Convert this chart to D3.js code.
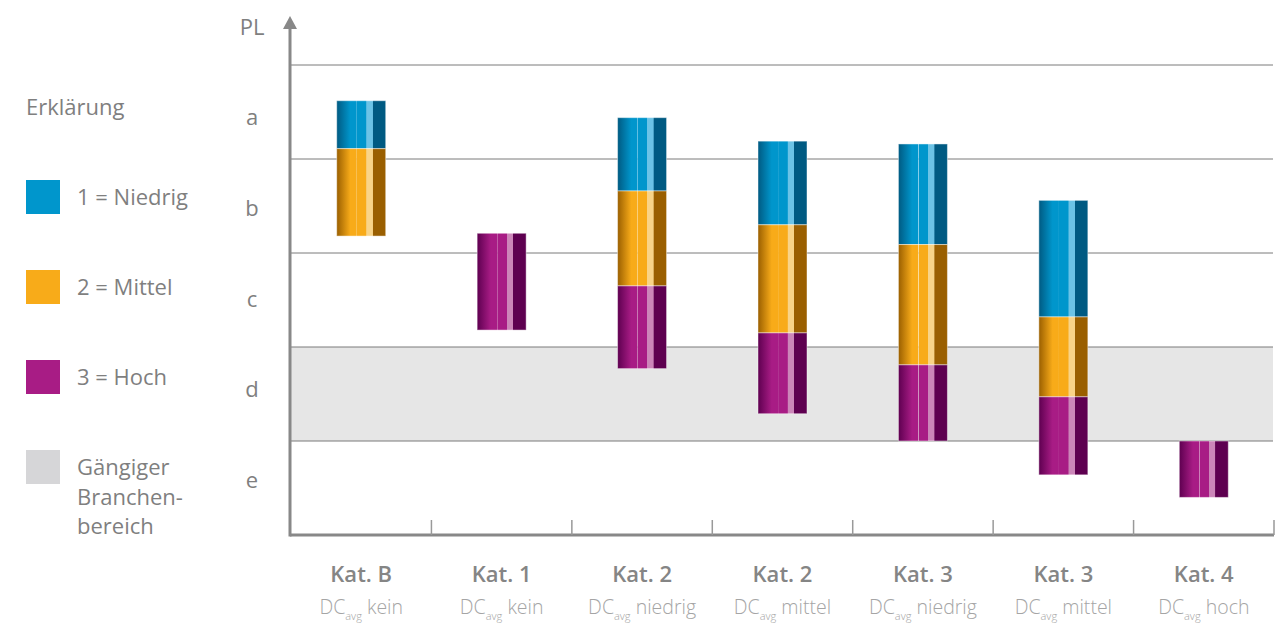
<!DOCTYPE html>
<html>
<head>
<meta charset="utf-8">
<script src="https://cdn.jsdelivr.net/npm/d3@7"></script>
<style>
  body { margin: 0; background: #fff; }
  svg text { font-family: "Open Sans", "Noto Sans", sans-serif; }
</style>
</head>
<body>
<svg id="chart" width="1278" height="624"></svg>
<script>
// Kategorien auf der x-Achse
var kategorien = ["Kat. B", "Kat. 1", "Kat. 2", "Kat. 2", "Kat. 3", "Kat. 3", "Kat. 4"];
var dcStufe = ["kein", "kein", "niedrig", "mittel", "niedrig", "mittel", "hoch"];
// PL-Stufen (oben nach unten)
var plStufen = ["a", "b", "c", "d", "e"];
// Wertebereiche je Serie: [oben, unten] in PL-Einheiten (e = 0..1, a = 4..5), null = nicht vorhanden
var niedrig = [[4.62, 4.11], null, [4.44, 3.66], [4.19, 3.30], [4.16, 3.09], [3.56, 2.32], null];
var mittel  = [[4.11, 3.18], null, [3.66, 2.65], [3.30, 2.15], [3.09, 1.81], [2.32, 1.47], null];
var hoch    = [null, [3.21, 2.18], [2.65, 1.77], [2.15, 1.29], [1.81, 1.00], [1.47, 0.64], [1.00, 0.40]];
// Branchenbereich (Band d)
var branchenbereich = [1, 2];

var serien = [
  {name: "1 = Niedrig", werte: niedrig, farbe: "#0096cc", dunkel: "#005a82", hell: "#6cc3e6"},
  {name: "2 = Mittel", werte: mittel, farbe: "#f8ab19", dunkel: "#9a5f00", hell: "#f9d488"},
  {name: "3 = Hoch", werte: hoch, farbe: "#a81c85", dunkel: "#5e0050", hell: "#cc86b9"}
];

var svg = d3.select("#chart");
var links = 290, rechts = 1273, oben = 65, unten = 535;

var x = d3.scaleBand()
    .domain(d3.range(kategorien.length))
    .range([links, rechts]);

var y = d3.scaleLinear()
    .domain([0, 5])
    .range([unten, oben]);

// Beschriftung der PL-Stufen sitzt etwas enger als die Baender
var yLabel = d3.scalePoint()
    .domain(plStufen)
    .range([118, 481]);

// Verlaeufe fuer den Zylinder-Effekt
var defs = svg.append("defs");
serien.forEach(function(s, i) {
  var g = defs.append("linearGradient").attr("id", "grad" + i)
      .attr("x1", "0").attr("x2", "1").attr("y1", "0").attr("y2", "0");
  [[0, s.dunkel], [0.28, s.farbe], [0.40, s.farbe], [0.41, s.hell], [0.42, s.farbe],
   [0.60, s.farbe], [0.61, s.hell], [0.73, s.hell], [0.74, s.dunkel], [1, s.dunkel]]
    .forEach(function(st) {
      g.append("stop").attr("offset", st[0]).attr("stop-color", st[1])
        .attr("stop-opacity", (st[1] === s.hell && st[0] === 0.41) ? 0.8 : 1);
    });
});

// grauer Branchenbereich
svg.append("rect")
    .attr("x", links)
    .attr("y", y(branchenbereich[1]))
    .attr("width", rechts - links)
    .attr("height", y(branchenbereich[0]) - y(branchenbereich[1]))
    .attr("fill", "#e6e6e6");

// Gitterlinien
svg.selectAll(".grid")
    .data([1, 2, 3, 4, 5])
    .enter().append("line")
    .attr("x1", links).attr("x2", rechts)
    .attr("y1", d => y(d)).attr("y2", d => y(d))
    .attr("stroke", "#7a7a7a").attr("stroke-width", 1);

// Balken
var bw = 49;
serien.forEach(function(s, i) {
  svg.selectAll(".bar" + i)
    .data(s.werte.map((w, k) => ({w: w, k: k})).filter(d => d.w))
    .enter().append("rect")
    .attr("x", d => x(d.k) + x.bandwidth() / 2 - bw / 2 + 1)
    .attr("y", d => y(d.w[0]))
    .attr("width", bw)
    .attr("height", d => y(d.w[1]) - y(d.w[0]))
    .attr("fill", "url(#grad" + i + ")")
    .attr("stroke", "rgba(255,255,255,0.45)")
    .attr("stroke-width", 1);
});

// x-Achse mit Ticks
svg.append("line")
    .attr("x1", links).attr("x2", rechts + 1)
    .attr("y1", unten).attr("y2", unten)
    .attr("stroke", "#888").attr("stroke-width", 3);
svg.selectAll(".tick")
    .data(d3.range(1, kategorien.length + 1))
    .enter().append("line")
    .attr("x1", d => links + d * x.step() + 1).attr("x2", d => links + d * x.step() + 1)
    .attr("y1", unten - 15).attr("y2", unten)
    .attr("stroke", "#999").attr("stroke-width", 1.5);

// y-Achse mit Pfeil
svg.append("line")
    .attr("x1", links).attr("x2", links)
    .attr("y1", 26).attr("y2", unten + 1.5)
    .attr("stroke", "#888").attr("stroke-width", 3);
svg.append("path")
    .attr("d", "M" + (links - 7) + ",29 L" + links + ",16 L" + (links + 7) + ",29 Z")
    .attr("fill", "#888");
svg.append("text")
    .attr("x", 252).attr("y", 35)
    .attr("text-anchor", "middle")
    .attr("fill", "#7f7f7f").attr("font-size", 22)
    .text("PL");

// PL-Beschriftung
svg.selectAll(".pl")
    .data(plStufen)
    .enter().append("text")
    .attr("x", 252)
    .attr("y", d => yLabel(d) + 7)
    .attr("text-anchor", "middle")
    .attr("fill", "#7f7f7f").attr("font-size", 22)
    .text(d => d);

// Kategorie-Beschriftung
svg.selectAll(".kat")
    .data(kategorien)
    .enter().append("text")
    .attr("x", (d, i) => x(i) + x.bandwidth() / 2 + 1)
    .attr("y", 582)
    .attr("text-anchor", "middle")
    .attr("fill", "#858585").attr("font-size", 22).attr("font-weight", 600)
    .text(d => d);

var sub = svg.selectAll(".dc")
    .data(dcStufe)
    .enter().append("text")
    .attr("x", (d, i) => x(i) + x.bandwidth() / 2 + 1)
    .attr("y", 614)
    .attr("text-anchor", "middle")
    .attr("fill", "#a5a5a5").attr("font-size", 19.5).attr("font-weight", 300);
sub.append("tspan").text("DC");
sub.append("tspan").attr("font-size", 11).attr("dy", 6).text("avg");
sub.append("tspan").attr("dy", -6).text(d => " " + d);

// Legende
svg.append("text")
    .attr("x", 26).attr("y", 115)
    .attr("fill", "#7f7f7f").attr("font-size", 22)
    .text("Erklärung");

var legende = serien.map(s => ({farbe: s.farbe, zeilen: [s.name]}))
    .concat([{farbe: "#d6d6d8", zeilen: ["Gängiger", "Branchen-", "bereich"]}]);

var lg = svg.selectAll(".leg")
    .data(legende)
    .enter().append("g")
    .attr("transform", (d, i) => "translate(26," + (180 + i * 90) + ")");
lg.append("rect")
    .attr("width", 34).attr("height", 34)
    .attr("fill", d => d.farbe);
lg.append("text")
    .attr("x", 51).attr("y", 25)
    .attr("fill", "#7f7f7f").attr("font-size", 22)
    .selectAll("tspan")
    .data(d => d.zeilen)
    .enter().append("tspan")
    .attr("x", 51)
    .attr("dy", (d, i) => i === 0 ? 0 : 29.5)
    .text(d => d);
</script>
</body>
</html>
